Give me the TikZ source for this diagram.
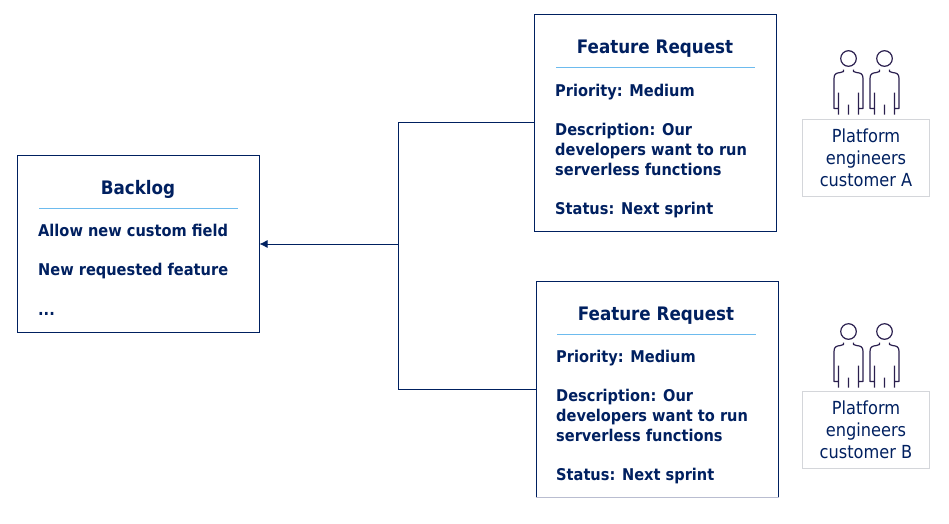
\documentclass[tikz,border=0pt]{standalone}
\usepackage{fontspec}
\setmainfont{DejaVu Sans}[FakeStretch=0.9]
\definecolor{navy}{HTML}{002060}
\definecolor{sky}{HTML}{6DBBEE}
\definecolor{pale}{HTML}{D4D6DA}
\definecolor{ink}{HTML}{2A1F4E}
\definecolor{fade}{HTML}{B9BDD0}
\usetikzlibrary{arrows.meta}
\tikzset{
  x=1pt,y=-1pt,
  cardbox/.style={draw=navy,line width=1pt,fill=white,minimum width=242pt,inner sep=0pt},
  rowtext/.style={anchor=base west,inner sep=0pt,text=navy,font=\fontsize{16.2}{18}\selectfont\bfseries},
  headtext/.style={anchor=base,inner sep=0pt,text=navy,font=\fontsize{18.6}{20}\selectfont\bfseries},
  divider/.style={draw=sky,line width=0.7pt},
  wire/.style={draw=navy,line width=0.8pt},
  whobox/.style={draw=pale,line width=0.8pt,fill=white,minimum width=127pt,minimum height=76.5pt,inner sep=0pt,
    text=navy,align=center,font=\fontsize{18}{22.4}\selectfont},
  person/.pic={
    \draw[ink,line width=1.2pt] (0,0) circle (7.8pt);
    \draw[ink,line width=1.2pt,line join=round]
      (-10,56) -- (-10,34) (10,56) -- (10,34) (0,46) -- (0,56)
      (-10,50) -- (-14.5,50) -- (-14.5,20) .. controls (-14.5,15) and (-12,14.5) .. (-8,14)
      -- (-5,13) -- (-5,11)
      (10,50) -- (14.5,50) -- (14.5,20) .. controls (14.5,15) and (12,14.5) .. (8,14)
      -- (5,13) -- (5,11);
  }
}
\begin{document}
\begin{tikzpicture}
\useasboundingbox (0,0) rectangle (949,523);
\node[cardbox,minimum height=177pt] (backlog) at (138,244) {};
\node[cardbox,minimum height=217pt] (fra) at (655,122.5) {};
\node[cardbox,minimum height=216pt] (frb) at (657,389) {};
\draw[fade,line width=1.1pt] (frb.south west) -- (frb.south east);
\coordinate (join) at (398,244);
\draw[wire] (fra.west) -- (join |- fra.west) -- (join);
\draw[wire] (frb.west) -- (join |- frb.west) -- (join);
\draw[wire,-{Latex[length=8pt,width=8pt]}] (join) -- (backlog.east);
% Backlog
\node[headtext] (bt) at (138,194) {Backlog};
\coordinate (b1) at (39,208.5); \coordinate (b2) at (238,208.5);
\draw[divider] (b1) -- (b2);
\node[rowtext] (b3) at (38,236) {Allow new custom field};
\node[rowtext] (b4) at (38,275.5) {New requested feature};
\node[rowtext] (b5) at (38,315.5) {...};
% Request A
\node[headtext] (at) at (655,53) {Feature Request};
\coordinate (a1) at (556,67.5); \coordinate (a2) at (755,67.5);
\draw[divider] (a1) -- (a2);
\node[rowtext] (a3) at (555,96) {Priority: Medium};
\node[rowtext] (a4) at (555,135) {Description: Our};
\node[rowtext] (a5) at (555,155) {developers want to run};
\node[rowtext] (a6) at (555,175) {serverless functions};
\node[rowtext] (a7) at (555,214.5) {Status: Next sprint};
% Request B
\node[headtext] (ct) at (656,320) {Feature Request};
\coordinate (c1) at (557,334.5); \coordinate (c2) at (756,334.5);
\draw[divider] (c1) -- (c2);
\node[rowtext] (c3) at (556,362.5) {Priority: Medium};
\node[rowtext] (c4) at (556,401.5) {Description: Our};
\node[rowtext] (c5) at (556,421.5) {developers want to run};
\node[rowtext] (c6) at (556,441) {serverless functions};
\node[rowtext] (c7) at (556,480.5) {Status: Next sprint};
% People
\pic at (848.5,58.5) {person};
\pic at (884.5,58.5) {person};
\pic at (848.5,331.5) {person};
\pic at (884.5,331.5) {person};
\node[whobox] (wa) at (866,157.7) {Platform\\engineers\\customer A};
\node[whobox] (wb) at (866,429.7) {Platform\\engineers\\customer B};
\end{tikzpicture}
\end{document}
